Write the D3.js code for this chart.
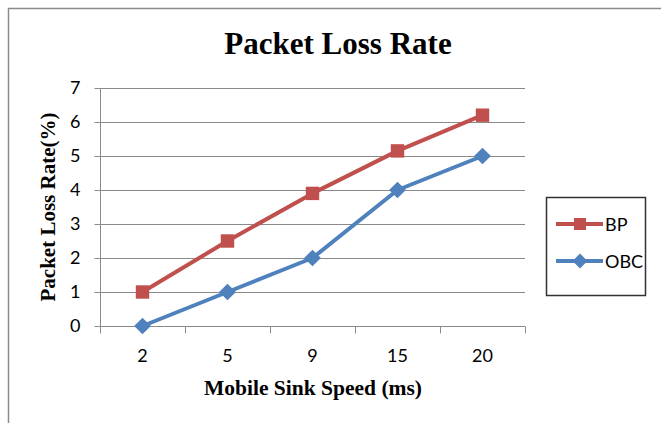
<!DOCTYPE html>
<html>
<head>
<meta charset="utf-8">
<script src="https://cdn.jsdelivr.net/npm/d3@7"></script>
<style>
  html, body { margin: 0; padding: 0; background: #fff; }
  svg { display: block; }
</style>
</head>
<body>
<svg id="chart" width="661" height="423"></svg>
<script>
// Packet loss rate (%) by mobile sink speed
const speeds = ["2", "5", "9", "15", "20"];
const bpValues = [1, 2.5, 3.9, 5.15, 6.2];
const obcValues = [0, 1, 2, 4, 5];
const yTicks = [0, 1, 2, 3, 4, 5, 6, 7];
const seriesNames = ["BP", "OBC"];

const svg = d3.select("#chart");
const W = 661, H = 423;
const plot = { left: 100, right: 525, top: 88, bottom: 326 };

const tickFont = "Lato, 'Open Sans', sans-serif";
const titleFont = "'Liberation Serif', 'DejaVu Serif', serif";

// outer chart frame
svg.append("path")
  .attr("d", `M8.5,${H} V8.5 H${W}`)
  .attr("fill", "none")
  .attr("stroke", "#8c8c8c")
  .attr("stroke-width", 1.5);

const x = d3.scaleBand().domain(speeds).range([plot.left, plot.right]);
const y = d3.scaleLinear().domain([0, 7]).range([plot.bottom, plot.top]);

// horizontal gridlines
svg.append("g")
  .selectAll("line")
  .data(yTicks.filter(d => d > 0))
  .join("line")
  .attr("x1", plot.left).attr("x2", plot.right)
  .attr("y1", d => Math.round(y(d)) + 0.5).attr("y2", d => Math.round(y(d)) + 0.5)
  .attr("stroke", "#8a8a8a").attr("stroke-width", 1);

// y axis
const yAxis = svg.append("g")
  .attr("transform", `translate(${plot.left + 0.5},0)`)
  .call(d3.axisLeft(y).tickValues(yTicks).tickSize(6).tickPadding(14).tickFormat(d3.format("d")));
yAxis.select(".domain").attr("stroke", "#8a8a8a").attr("d", `M0,${plot.top}V${plot.bottom}`);
yAxis.selectAll(".tick line").attr("stroke", "#8a8a8a");
yAxis.selectAll(".tick text")
  .attr("font-family", tickFont).attr("font-size", 18).attr("fill", "#000");

// x axis with ticks on category boundaries
const xAxis = svg.append("g")
  .attr("transform", `translate(0,${Math.round(plot.bottom) + 0.5})`)
  .call(d3.axisBottom(x).tickSize(0).tickPadding(23));
xAxis.select(".domain").attr("stroke", "#8a8a8a").attr("d", `M${plot.left},0H${plot.right}`);
xAxis.selectAll(".tick text")
  .attr("font-family", tickFont).attr("font-size", 18).attr("fill", "#000");
const bounds = speeds.map(s => x(s)).concat([x(speeds[speeds.length - 1]) + x.bandwidth()]);
xAxis.append("g").selectAll("line")
  .data(bounds)
  .join("line")
  .attr("x1", d => Math.round(d) + 0.5).attr("x2", d => Math.round(d) + 0.5)
  .attr("y1", 0).attr("y2", 7)
  .attr("stroke", "#8a8a8a");

const cx = d => x(d) + x.bandwidth() / 2;

// square diamond (rotated square) marker
const squareDiamond = {
  draw(ctx, size) {
    const r = Math.sqrt(size / 2);
    ctx.moveTo(0, -r); ctx.lineTo(r, 0); ctx.lineTo(0, r); ctx.lineTo(-r, 0); ctx.closePath();
  }
};

const series = [
  { name: seriesNames[0], values: bpValues, color: "#C0504D", symbol: d3.symbolSquare, size: 180 },
  { name: seriesNames[1], values: obcValues, color: "#4F81BD", symbol: squareDiamond, size: 140 }
];

const line = d3.line().x(d => cx(d.k)).y(d => y(d.v));

series.forEach(s => {
  const pts = speeds.map((k, i) => ({ k, v: s.values[i] }));
  svg.append("path")
    .datum(pts)
    .attr("d", line)
    .attr("fill", "none")
    .attr("stroke", s.color)
    .attr("stroke-width", 4)
    .attr("stroke-linejoin", "round");
  svg.append("g").selectAll("path")
    .data(pts)
    .join("path")
    .attr("transform", d => `translate(${cx(d.k)},${y(d.v)})`)
    .attr("d", d3.symbol().type(s.symbol).size(s.size))
    .attr("fill", s.color);
});

// title
svg.append("text")
  .attr("x", 338).attr("y", 54)
  .attr("text-anchor", "middle")
  .attr("font-family", titleFont).attr("font-weight", "bold").attr("font-size", 31)
  .text("Packet Loss Rate");

// axis titles
svg.append("text")
  .attr("x", 313).attr("y", 395)
  .attr("text-anchor", "middle")
  .attr("font-family", titleFont).attr("font-weight", "bold").attr("font-size", 21.5)
  .text("Mobile Sink Speed (ms)");

svg.append("text")
  .attr("transform", "translate(55,207) rotate(-90)")
  .attr("text-anchor", "middle")
  .attr("font-family", titleFont).attr("font-weight", "bold").attr("font-size", 21)
  .text("Packet Loss Rate(%)");

// legend
const legend = svg.append("g");
legend.append("rect")
  .attr("x", 546.5).attr("y", 197.5).attr("width", 99).attr("height", 98)
  .attr("fill", "#fff").attr("stroke", "#333").attr("stroke-width", 1.5);
series.forEach((s, i) => {
  const ly = 224 + i * 37;
  legend.append("line")
    .attr("x1", 556).attr("x2", 603).attr("y1", ly).attr("y2", ly)
    .attr("stroke", s.color).attr("stroke-width", 4);
  legend.append("path")
    .attr("transform", `translate(580,${ly})`)
    .attr("d", d3.symbol().type(s.symbol).size(s.size * 0.8))
    .attr("fill", s.color);
  legend.append("text")
    .attr("x", 605).attr("y", ly + 6.5)
    .attr("font-family", tickFont).attr("font-size", 18).attr("fill", "#000")
    .text(s.name);
});
</script>
</body>
</html>
